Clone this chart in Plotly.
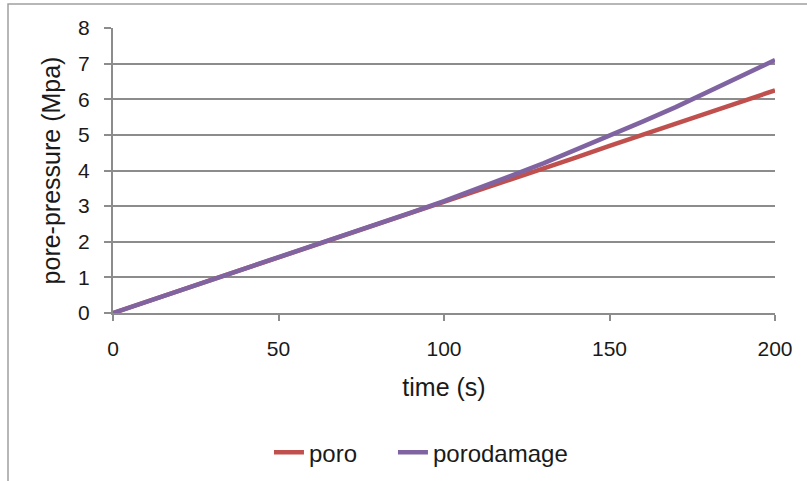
import plotly.graph_objects as go

time_s = [0, 10, 20, 30, 40, 50, 60, 70, 80, 90, 100, 110, 120, 130, 140, 150, 160, 170, 180, 190, 200]
poro = [0, 0.31, 0.62, 0.94, 1.25, 1.56, 1.88, 2.19, 2.50, 2.81, 3.12, 3.44, 3.75, 4.06, 4.37, 4.69, 5.00, 5.31, 5.62, 5.94, 6.25]
porodamage = [0, 0.31, 0.63, 0.94, 1.25, 1.57, 1.88, 2.19, 2.51, 2.82, 3.14, 3.48, 3.84, 4.20, 4.58, 4.97, 5.37, 5.78, 6.21, 6.65, 7.10]

FONT = "Liberation Sans, Arial, sans-serif"
GRID = "#8c8c8c"

fig = go.Figure()
fig.add_trace(go.Scatter(x=time_s, y=poro, mode="lines", name="poro", legend="legend",
                         line=dict(color="#C0504D", width=4.5)))
fig.add_trace(go.Scatter(x=time_s, y=porodamage, mode="lines", name="porodamage", legend="legend2",
                         line=dict(color="#8064A2", width=4.5)))

LEG_Y = -0.49
fig.update_layout(
    width=807, height=481,
    margin=dict(l=113, r=32, t=28, b=168, autoexpand=False),
    paper_bgcolor="white", plot_bgcolor="white",
    font=dict(family=FONT, size=21, color="#1a1a1a"),
    showlegend=True,
    legend=dict(orientation="h", x=0.2356, xanchor="left", y=LEG_Y, yanchor="middle",
                font=dict(size=24), bgcolor="rgba(0,0,0,0)"),
    legend2=dict(orientation="h", x=0.4229, xanchor="left", y=LEG_Y, yanchor="middle",
                 font=dict(size=24), bgcolor="rgba(0,0,0,0)"),
    xaxis=dict(range=[0, 200], tickvals=[0, 50, 100, 150, 200], showgrid=False,
               showline=True, linecolor=GRID, linewidth=2, ticks="outside", ticklen=6,
               tickcolor=GRID, tickwidth=2, zeroline=False, ticklabelstandoff=10,
               title=dict(text="time (s)", font=dict(size=25), standoff=19)),
    yaxis=dict(range=[0, 8], dtick=1, showgrid=True, gridcolor=GRID, gridwidth=2,
               showline=True, linecolor=GRID, linewidth=2, ticks="outside", ticklen=7,
               tickcolor=GRID, tickwidth=2, zeroline=False, ticklabelstandoff=10,
               title=dict(text="pore-pressure (Mpa)", font=dict(size=25), standoff=10)),
    shapes=[dict(type="rect", xref="paper", yref="paper",
                 x0=-0.1586, x1=1.2, y0=-0.7, y1=1.084,
                 line=dict(color="#a0a0a0", width=1.5), fillcolor="rgba(0,0,0,0)",
                 layer="below")],
)

fig.write_html("out.html", config={"displayModeBar": False},
               post_script="document.body.style.margin='0';document.body.style.overflow='hidden';")
